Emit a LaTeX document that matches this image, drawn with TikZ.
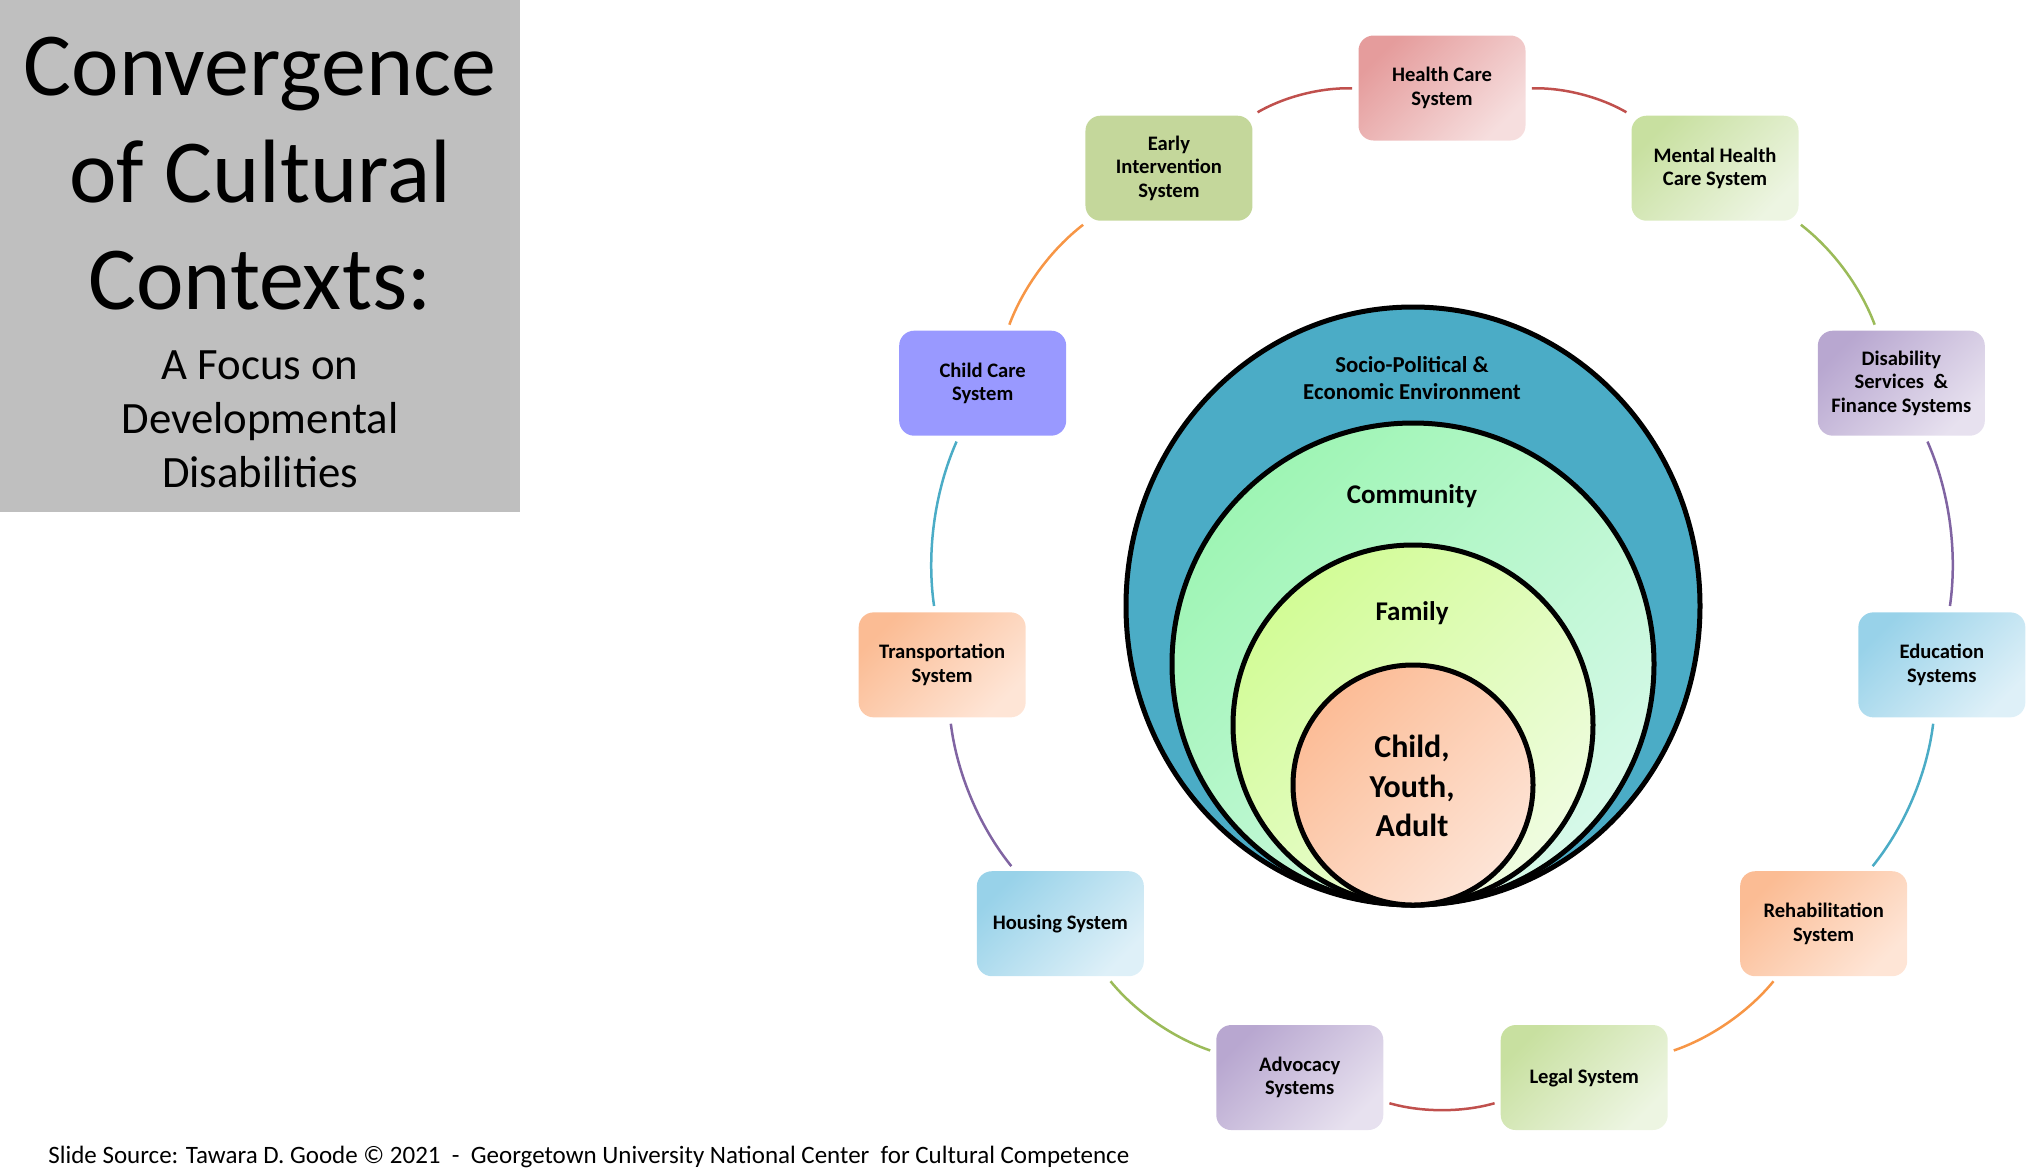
\documentclass[tikz,border=0pt]{standalone}
\usepackage{fontspec}
\setmainfont{Carlito}
\usepackage{tikz}
\usetikzlibrary{shapes.geometric, positioning, calc}

\definecolor{titlegray}{RGB}{191,191,191}
\definecolor{arcred}{RGB}{192,80,77}
\definecolor{arcgreen}{RGB}{155,187,89}
\definecolor{arcpurple}{RGB}{128,100,162}
\definecolor{arcteal}{RGB}{75,172,198}
\definecolor{arcorange}{RGB}{247,150,70}
\definecolor{redA}{RGB}{229,156,156}
\definecolor{redB}{RGB}{246,222,222}
\definecolor{greenA}{RGB}{200,224,160}
\definecolor{greenB}{RGB}{237,245,226}
\definecolor{purpleA}{RGB}{184,167,208}
\definecolor{purpleB}{RGB}{231,225,239}
\definecolor{blueA}{RGB}{152,210,233}
\definecolor{blueB}{RGB}{222,240,248}
\definecolor{orangeA}{RGB}{251,188,148}
\definecolor{orangeB}{RGB}{254,229,214}
\definecolor{earlygreen}{RGB}{196,215,155}
\definecolor{childblue}{RGB}{153,153,255}
\definecolor{socioteal}{RGB}{75,172,198}
\definecolor{commA}{RGB}{158,245,180}
\definecolor{commB}{RGB}{214,249,233}
\definecolor{famA}{RGB}{210,252,150}
\definecolor{famB}{RGB}{239,252,224}
\definecolor{kidA}{RGB}{252,188,150}
\definecolor{kidB}{RGB}{253,228,214}

\tikzstyle{sysbox} = [rectangle, rounded corners=7.5pt, minimum width=83.5pt, minimum height=52.5pt, inner sep=2pt, align=center, font=\bfseries\fontsize{10.3}{11.7}\selectfont]
\tikzstyle{redsys} = [sysbox, top color=redA, bottom color=redB, shading angle=45]
\tikzstyle{greensys} = [sysbox, top color=greenA, bottom color=greenB, shading angle=45]
\tikzstyle{purplesys} = [sysbox, top color=purpleA, bottom color=purpleB, shading angle=45]
\tikzstyle{bluesys} = [sysbox, top color=blueA, bottom color=blueB, shading angle=45]
\tikzstyle{orangesys} = [sysbox, top color=orangeA, bottom color=orangeB, shading angle=45]
\tikzstyle{ring} = [circle, draw=black, line width=2.5pt, inner sep=0pt]
\tikzstyle{link} = [line width=1.25pt, bend left=16, looseness=0.87, shorten <=3pt, shorten >=3pt]

\begin{document}
\begin{tikzpicture}[x=0.5pt, y=0.5pt]
    \useasboundingbox (0,0) rectangle (2031,-1169);

    % title panel
    \node (panel) [fill=titlegray, minimum width=260pt, minimum height=256pt, inner sep=0pt, anchor=north west] at (0,0) {};
    \node (title) [align=center, font=\fontsize{45}{53.5}\selectfont] at (260,-174) {Convergence\\of Cultural\\Contexts:};
    \node (subtitle) [align=center, font=\fontsize{22.4}{27}\selectfont] at (260,-419) {A Focus on\\Developmental\\Disabilities};

    % nested circles
    \node (socio) [ring, ellipse, minimum width=287pt, minimum height=299pt, fill=socioteal] at (1413,-606) {};
    \node (community) [ring, minimum size=241pt, top color=commA, bottom color=commB, shading angle=45] at (1413,-664) {};
    \node (family) [ring, minimum size=180pt, top color=famA, bottom color=famB, shading angle=45] at (1413,-725) {};
    \node (person) [ring, minimum size=120pt, top color=kidA, bottom color=kidB, shading angle=45] at (1413,-785) {};

    \node (sociotext) [align=center, font=\bfseries\fontsize{11.4}{13.5}\selectfont] at (1412,-378) {Socio-Political \&\\Economic Environment};
    \node (commtext) [font=\bfseries\fontsize{13.5}{16}\selectfont] at (1412,-496) {Community};
    \node (famtext) [font=\bfseries\fontsize{13.5}{16}\selectfont] at (1412,-613) {Family};
    \node (persontext) [align=center, font=\bfseries\fontsize{16}{19.75}\selectfont] at (1412,-786) {Child,\\Youth,\\Adult};

    % systems around the ring
    \coordinate (hub) at (1442,-593);
    \node (health) [redsys] at ($(hub)+(90:505)$) {Health Care\\System};
    \node (mental) [greensys] at ($(hub)+(57.27:505)$) {Mental Health\\Care System};
    \node (disability) [purplesys] at ($(hub)+(24.55:505)$) {Disability\\Services\ \ \&\\Finance Systems};
    \node (education) [bluesys] at ($(hub)+(-8.18:505)$) {Education\\Systems};
    \node (rehab) [orangesys] at ($(hub)+(-40.91:505)$) {Rehabilitation\\System};
    \node (legal) [greensys] at ($(hub)+(-73.64:505)$) {Legal System};
    \node (advocacy) [purplesys] at ($(hub)+(-106.36:505)$) {Advocacy\\Systems};
    \node (housing) [bluesys] at ($(hub)+(-139.09:505)$) {Housing System};
    \node (transport) [orangesys] at ($(hub)+(-171.82:505)$) {Transportation\\System};
    \node (childcare) [sysbox, fill=childblue] at ($(hub)+(-204.55:505)$) {Child Care\\System};
    \node (early) [sysbox, fill=earlygreen] at ($(hub)+(-237.27:505)$) {Early\\Intervention\\System};

    \draw[link, arcred] (health) to (mental);
    \draw[link, arcgreen] (mental) to (disability);
    \draw[link, arcpurple] (disability) to (education);
    \draw[link, arcteal] (education) to (rehab);
    \draw[link, arcorange] (rehab) to (legal);
    \draw[link, arcred] (legal) to (advocacy);
    \draw[link, arcgreen] (advocacy) to (housing);
    \draw[link, arcpurple] (housing) to (transport);
    \draw[link, arcteal] (transport) to (childcare);
    \draw[link, arcorange] (childcare) to (early);
    \draw[link, arcred] (early) to (health);

    \node (source) [anchor=base west, inner sep=0pt, font=\fontsize{12.5}{14}\selectfont] at (48,-1163) {Slide Source: Tawara D. Goode © 2021\ \ -\ \ Georgetown University National Center\ \ for Cultural Competence};
\end{tikzpicture}
\end{document}
